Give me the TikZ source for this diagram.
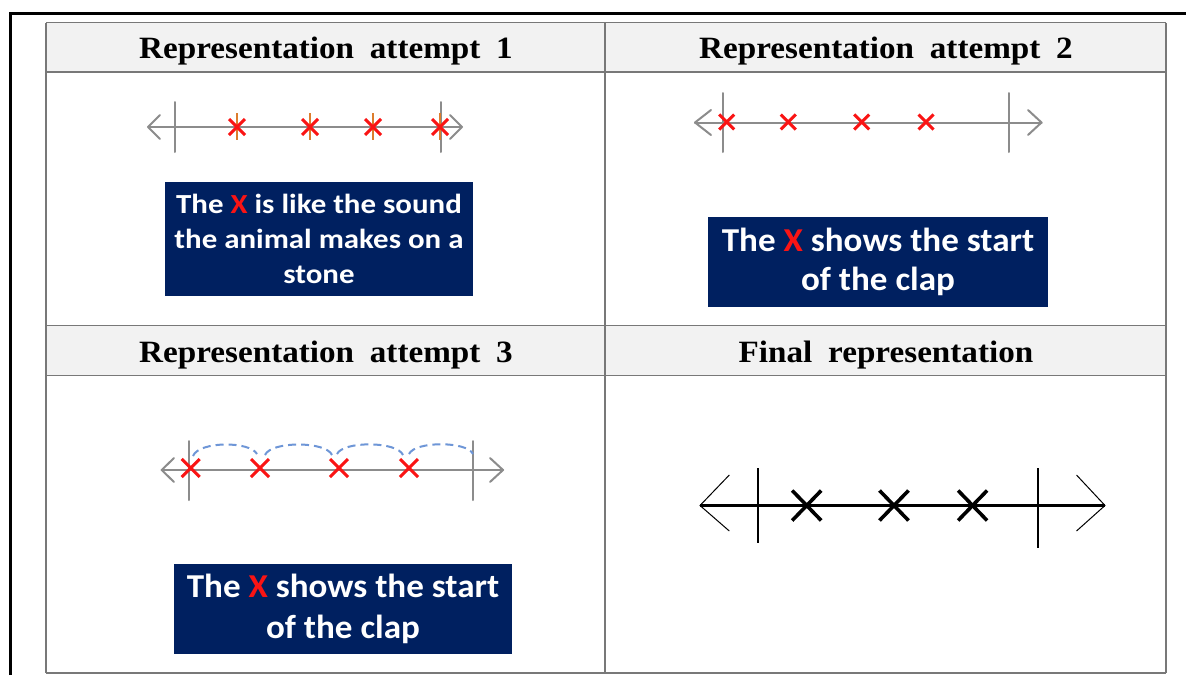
\documentclass[tikz,border=0pt]{standalone}
\usepackage{fontspec}
\setmainfont{Liberation Serif}
\newfontfamily\headfont[FakeStretch=1.07,WordSpace=1.9]{Liberation Serif}
\newfontfamily\notefont[FakeStretch=1.12]{Carlito}
\newfontfamily\notefontB[FakeStretch=1.05]{Carlito}

\definecolor{gridgray}{RGB}{120,120,120}
\definecolor{headbg}{RGB}{242,242,242}
\definecolor{navy}{RGB}{0,32,96}
\definecolor{nlgray}{RGB}{140,140,140}
\definecolor{xred}{RGB}{250,20,20}
\definecolor{tickorange}{RGB}{220,125,45}
\definecolor{hopblue}{RGB}{110,150,215}

\tikzset{
  grid/.style={draw=gridgray, line width=1.4pt},
  head/.style={font=\headfont\bfseries\fontsize{31}{34}\selectfont, anchor=base, inner sep=0pt},
  notebox/.style={fill=navy, text=white, align=center, inner sep=0pt},
  softline/.style={draw=nlgray, line width=2pt, line cap=round, line join=round},
  redx/.style={draw=xred, line width=3pt},
  orangetick/.style={draw=tickorange, line width=2.4pt},
  hop/.style={draw=hopblue, line width=2pt, dash pattern=on 8pt off 5pt},
  blackline/.style={draw=black, line width=2.7pt},
  blackthin/.style={draw=black, line width=1pt},
  blacktick/.style={draw=black, line width=1.5pt},
  blackx/.style={draw=black, line width=3.6pt},
}

\begin{document}
\begin{tikzpicture}[x=1pt,y=-1pt]
\useasboundingbox (0,0) rectangle (1186,675);
\fill[white] (0,0) rectangle (1186,675);

% outer frame
\draw[line width=3pt] (10.5,675) -- (10.5,13.5) -- (1186,13.5);

% table header bands
\fill[headbg] (46,22.5) rectangle (1166,72);
\fill[headbg] (46,325.5) rectangle (1166,375.5);

% table rules
\foreach \yy in {22.5,72,325.5,375.5,673}
  \draw[grid] (46,\yy) -- (1166,\yy);
\foreach \xx in {46,605,1166}
  \draw[grid] (\xx,22.5) -- (\xx,673);

% headers
\node[head] (h1) at (326,58.5) {Representation attempt 1};
\node[head] (h2) at (886,58.5) {Representation attempt 2};
\node[head] (h3) at (326,362.5) {Representation attempt 3};
\node[head] (h4) at (886,362.5) {Final representation};

% ---- attempt 1 ----
\coordinate (l1a) at (148,127);
\coordinate (l1b) at (462,127);
\draw[softline] (l1a) -- (l1b);
\draw[softline] (160,115) -- (l1a) -- (160,139);
\draw[softline] (450,115) -- (l1b) -- (450,139);
\draw[softline] (175,102) -- (175,152);
\draw[softline] (441,102) -- (441,152);
\foreach \px in {237,310,373,440}{
  \draw[orangetick] (\px,113) -- (\px,140);
  \draw[redx] (\px-8,119) -- (\px+8,135) (\px-8,135) -- (\px+8,119);
}
\node[notebox, minimum width=308pt, minimum height=114pt,
      font=\notefont\bfseries\fontsize{27.6}{34.7}\selectfont] (n1) at (319,239)
  {The {\color{xred}X} is like the sound\\the animal makes on a\\stone};

% ---- attempt 2 ----
\coordinate (l2a) at (695,122.5);
\coordinate (l2b) at (1041.5,122.5);
\draw[softline] (l2a) -- (l2b);
\draw[softline] (711,110) -- (l2a) -- (711,135);
\draw[softline] (1028,110) -- (l2b) -- (1028,135);
\draw[softline] (722.7,93) -- (722.7,152);
\draw[softline] (1009,93) -- (1009,152);
\foreach \px in {726.7,788.3,861.7,926}{
  \draw[redx] (\px-7.5,114.5) -- (\px+7.5,129.5) (\px-7.5,129.5) -- (\px+7.5,114.5);
}
\node[notebox, minimum width=340pt, minimum height=90pt,
      font=\notefontB\bfseries\fontsize{33.4}{39}\selectfont] (n2) at (878,262)
  {The {\color{xred}X} shows the start\\of the clap};

% ---- attempt 3 ----
\coordinate (l3a) at (161.7,470);
\coordinate (l3b) at (503,470);
\draw[softline] (l3a) -- (l3b);
\draw[softline] (174,458) -- (l3a) -- (174,482);
\draw[softline] (490,458) -- (l3b) -- (490,482);
\draw[softline] (189.3,441) -- (189.3,500);
\draw[softline] (472.7,441) -- (472.7,500);
\foreach \px in {190.7,260,339,409}{
  \draw[redx] (\px-9,459) -- (\px+9,477) (\px-9,477) -- (\px+9,459);
}
\draw[hop] (193,456) .. controls (199,441) and (250,441) .. (257,454);
\draw[hop] (265,455) .. controls (271,441) and (326,441) .. (332,455);
\draw[hop] (337,454) .. controls (343,441) and (397,441) .. (403,455);
\draw[hop] (409,454) .. controls (415,441) and (467,441) .. (473,454);
\node[notebox, minimum width=338pt, minimum height=90pt,
      font=\notefontB\bfseries\fontsize{33.4}{41}\selectfont] (n3) at (343,609)
  {The {\color{xred}X} shows the start\\of the clap};

% ---- final representation ----
\coordinate (l4a) at (700,505.5);
\coordinate (l4b) at (1105,505.5);
\draw[blackline] (l4a) -- (l4b);
\draw[blackthin] (729.3,475) -- (l4a) -- (729.3,531);
\draw[blackthin] (1076.5,475) -- (l4b) -- (1076.5,531);
\draw[blacktick] (758,468) -- (758,543);
\draw[blacktick] (1038,468) -- (1038,548);
\foreach \px in {806.7,894,972.6}{
  \draw[blackx] (\px-14.5,490.5) -- (\px+14.5,520.5) (\px-14.5,520.5) -- (\px+14.5,490.5);
}
\end{tikzpicture}
\end{document}
